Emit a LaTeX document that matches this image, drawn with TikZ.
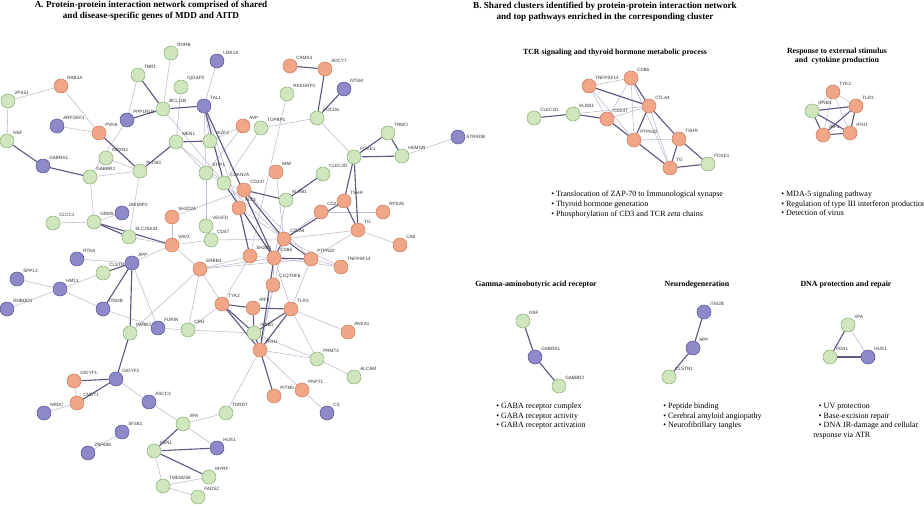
\documentclass[tikz,border=0pt]{standalone}
\usepackage{fontspec}
\setmainfont{Liberation Serif}
\newfontfamily\genefont{Liberation Sans}
\usetikzlibrary{backgrounds}

\definecolor{orfill}{RGB}{242,166,136}
\definecolor{ordraw}{RGB}{205,125,95}
\definecolor{grfill}{RGB}{208,231,190}
\definecolor{grdraw}{RGB}{140,175,120}
\definecolor{pufill}{RGB}{142,138,202}
\definecolor{pudraw}{RGB}{90,86,150}
\definecolor{edgelite}{RGB}{190,185,208}
\definecolor{edgedark}{RGB}{95,88,132}

\tikzset{
  gene/.style={circle, minimum size=0.35cm, inner sep=0pt, line width=0.4pt},
  og/.style={gene, draw=ordraw, fill=orfill},
  gg/.style={gene, draw=grdraw, fill=grfill},
  pg/.style={gene, draw=pudraw, fill=pufill},
  every label/.style={font=\genefont\fontsize{3.3}{4}\selectfont, text=black!80, inner sep=0.6pt},
  weakedge/.style={draw=edgelite, line width=0.4pt},
  strongedge/.style={draw=edgedark, line width=0.8pt},
  paneltitle/.style={font=\bfseries\fontsize{6.5}{7.8}\selectfont, align=center},
  clustertitle/.style={font=\bfseries\fontsize{5.6}{6.6}\selectfont, align=center},
  bullets/.style={font=\fontsize{5.7}{6.8}\selectfont, align=left, anchor=north west, inner sep=0pt}
}

\begin{document}
\begin{tikzpicture}[x=0.025cm, y=-0.025cm]
  \useasboundingbox (0,0) rectangle (924,505);

  % Panel titles
  \node[paneltitle] (titleA) at (151,10.5) {A. Protein-protein interaction network comprised of shared\\ and disease-specific genes of MDD and AITD};
  \node[paneltitle] (titleB) at (605,12) {B. Shared clusters identified by protein-protein interaction network\\ and top pathways enriched in the corresponding cluster};

  % Network A: green genes
  \node[gg, label=45:RORB] (RORB) at (171,53) {};
  \node[gg, label=45:TBR1] (TBR1) at (138,75) {};
  \node[gg, label=45:IQGAP2] (IQGAP2) at (181,87) {};
  \node[gg, label=45:VPS51] (VPS51) at (8,101) {};
  \node[gg, label=45:BCL11B] (BCL11B) at (163,109) {};
  \node[gg, label=45:NSF] (NSF) at (7,141) {};
  \node[gg, label=45:MEN1] (MEN1) at (176,142) {};
  \node[gg, label=45:IKZF2] (IKZF2) at (210,141) {};
  \node[gg, label=45:NRXN2] (NRXN2) at (106,158) {};
  \node[gg, label=45:PLCB3] (PLCB3) at (140,171) {};
  \node[gg, label=45:GABBR2] (GABBR2) at (90,177) {};
  \node[gg, label=45:STIP1] (STIP1) at (206,173) {};
  \node[gg, label=45:CDKN2A] (CDKN2A) at (224,183) {};
  \node[gg, label=45:RASGRP1] (RASGRP1) at (287,94) {};
  \node[gg, label=45:TOPBP1] (TOPBP1) at (261,128) {};
  \node[gg, label=45:PDCD6] (PDCD6) at (317,118) {};
  \node[gg, label=45:TRMO] (TRMO) at (388,133) {};
  \node[gg, label=45:HEMGN] (HEMGN) at (402,156) {};
  \node[gg, label=45:FOXE1] (FOXE1) at (354,157) {};
  \node[gg, label=45:CLEC2D] (CLEC2D) at (323,174) {};
  \node[gg, label=45:KLRB1] (KLRB1) at (286,200) {};
  \node[gg, label=45:VEGFD] (VEGFD) at (206,226) {};
  \node[gg, label=45:CD47] (CD47) at (211,240) {};
  \node[gg, label=45:CLCC1] (CLCC1) at (53,223) {};
  \node[gg, label=45:GRM5] (GRM5) at (94,222) {};
  \node[gg, label=45:SLC25A24] (SLC25A24) at (129,237) {};
  \node[gg, label=45:CLSTN1] (CLSTN1) at (103,273) {};
  \node[gg, label=45:PARK7] (PARK7) at (130,333) {};
  \node[gg, label=45:CRH] (CRH) at (188,330) {};
  \node[gg, label=45:IFNB1] (IFNB1) at (254,333) {};
  \node[gg, label=45:PRMT4] (PRMT4) at (317,359) {};
  \node[gg, label=45:ALCAM] (ALCAM) at (354,377) {};
  \node[gg, label=45:TDRD7] (TDRD7) at (226,413) {};
  \node[gg, label=45:XPA] (XPA) at (183,424) {};
  \node[gg, label=45:FEN1] (FEN1) at (154,451) {};
  \node[gg, label=45:MYRF] (MYRF) at (209,477) {};
  \node[gg, label=45:TMEM258] (TMEM258) at (163,486) {};
  \node[gg, label=45:FADS2] (FADS2) at (198,497) {};

  % Network A: orange genes
  \node[og, label=45:RAB2A] (RAB2A) at (61,86) {};
  \node[og, label=45:PVKB] (PVKB) at (99,133) {};
  \node[og, label=45:CAMK4] (CAMK4) at (290,66) {};
  \node[og, label=45:ADCY7] (ADCY7) at (325,69) {};
  \node[og, label=45:AVP] (AVP) at (243,126) {};
  \node[og, label=45:MAF] (MAF) at (276,172) {};
  \node[og, label=45:CD247] (CD247) at (244,190) {};
  \node[og, label=45:FLT3] (FLT3) at (239,208) {};
  \node[og, label=45:CD276] (CD276) at (321,212) {};
  \node[og, label=45:TSHR] (TSHR) at (344,201) {};
  \node[og, label=45:RPS26] (RPS26) at (383,212) {};
  \node[og, label=45:TG] (TG) at (358,230) {};
  \node[og, label=45:CTLA4] (CTLA4) at (284,239) {};
  \node[og, label=45:CA8] (CA8) at (400,245) {};
  \node[og, label=45:SH2D2A] (SH2D2A) at (172,217) {};
  \node[og, label=45:VAV3] (VAV3) at (172,245) {};
  \node[og, label=45:ERBB3] (ERBB3) at (200,269) {};
  \node[og, label=45:SH2B3] (SH2B3) at (250,256) {};
  \node[og, label=45:CD86] (CD86) at (274,258) {};
  \node[og, label=45:PTPN22] (PTPN22) at (311,259) {};
  \node[og, label=45:TNFRSF14] (TNFRSF14) at (341,267) {};
  \node[og, label=45:C1QTNF6] (C1QTNF6) at (273,285) {};
  \node[og, label=45:TYK2] (TYK2) at (222,304) {};
  \node[og, label=45:IRF3] (IRF3) at (253,308) {};
  \node[og, label=45:TLR3] (TLR3) at (291,309) {};
  \node[og, label=45:IFIH1] (IFIH1) at (260,350) {};
  \node[og, label=45:ANXA1] (ANXA1) at (348,332) {};
  \node[og, label=45:PITM5] (PITM5) at (274,396) {};
  \node[og, label=45:PNPT1] (PNPT1) at (302,390) {};
  \node[og, label=45:GIGYF1] (GIGYF1) at (74,381) {};
  \node[og, label=45:CNOT1] (CNOT1) at (77,403) {};

  % Network A: purple genes
  \node[pg, label=45:LMX1A] (LMX1A) at (217,61) {};
  \node[pg, label=45:NT5M] (NT5M) at (344,89) {};
  \node[pg, label=45:TAL1] (TAL1) at (204,106) {};
  \node[pg, label=45:PPP1R1B] (PPP1R1B) at (127,120) {};
  \node[pg, label=45:ARFGEF1] (ARFGEF1) at (57,126) {};
  \node[pg, label=45:GABRA1] (GABRA1) at (43,166) {};
  \node[pg, label=0:STRADB] (STRADB) at (458,137) {};
  \node[pg, label=45:JAKMIP2] (JAKMIP2) at (122,213) {};
  \node[pg, label=45:RTN4] (RTN4) at (77,259) {};
  \node[pg, label=45:APP] (APP) at (132,263) {};
  \node[pg, label=45:SPPL3] (SPPL3) at (17,279) {};
  \node[pg, label=45:HM13] (HM13) at (60,289) {};
  \node[pg, label=45:RHBDD1] (RHBDD1) at (7,309) {};
  \node[pg, label=45:ITM2B] (ITM2B) at (103,309) {};
  \node[pg, label=45:FURIN] (FURIN) at (158,328) {};
  \node[pg, label=45:GIGYF2] (GIGYF2) at (116,379) {};
  \node[pg, label=45:NRDC] (NRDC) at (44,413) {};
  \node[pg, label=45:ASCC3] (ASCC3) at (149,402) {};
  \node[pg, label=45:SF3B1] (SF3B1) at (122,432) {};
  \node[pg, label=45:ZNF638] (ZNF638) at (88,453) {};
  \node[pg, label=45:HUS1] (HUS1) at (217,448) {};
  \node[pg, label=45:CS] (CS) at (327,413) {};

  % Network A: interactions
  \begin{scope}[on background layer]
    \foreach \a/\b in {RAB2A/VPS51, RAB2A/PVKB, VPS51/NSF, ARFGEF1/PVKB, PPP1R1B/TBR1, PPP1R1B/GABBR2,
        RORB/BCL11B, LMX1A/TAL1, IQGAP2/MEN1, BCL11B/CDKN2A, TAL1/IKZF2, MEN1/STIP1, MEN1/CDKN2A,
        NRXN2/PLCB3, GABBR2/PLCB3, GABBR2/GRM5, PLCB3/SLC25A24, GRM5/JAKMIP2, CLCC1/GRM5,
        SLC25A24/VAV3, APP/RTN4, APP/VAV3, APP/FURIN, CLSTN1/HM13, HM13/SPPL3, HM13/RHBDD1,
        HM13/ITM2B, ITM2B/FURIN, SH2D2A/VAV3, VAV3/CD47, VAV3/ERBB3, ERBB3/PARK7, ERBB3/CRH,
        FURIN/CRH, CRH/IFNB1, CNOT1/NRDC, GIGYF1/CNOT1, GIGYF2/ASCC3, ASCC3/XPA, SF3B1/ZNF638,
        XPA/TDRD7, XPA/HUS1, FEN1/TMEM258, TMEM258/FADS2, TMEM258/MYRF, TDRD7/IFIH1, IFIH1/PRMT4,
        IFIH1/PNPT1, PRMT4/ALCAM, PNPT1/CS, TLR3/ANXA1, IFNB1/PRMT4, PDCD6/TOPBP1, TOPBP1/CDKN2A,
        AVP/IKZF2, AVP/STIP1, RASGRP1/SH2B3, PDCD6/FOXE1, HEMGN/STRADB, MAF/CTLA4, CTLA4/CD276,
        CD276/RPS26, TG/CA8, CTLA4/TG, PTPN22/TG, CTLA4/TNFRSF14, PTPN22/TNFRSF14, CD86/TNFRSF14,
        SH2B3/CD86, SH2B3/FLT3, FLT3/CTLA4, CD47/CTLA4, CD47/VEGFD, ERBB3/TYK2, ERBB3/SH2B3,
        SH2B3/TYK2, CD86/C1QTNF6, C1QTNF6/IFIH1, TLR3/PTPN22, KLRB1/CD86, CD247/PTPN22, TLR3/PRMT4,
        CD86/TLR3, ERBB3/CD86, ERBB3/PTPN22, TAL1/STIP1, TAL1/FLT3, CDKN2A/CTLA4, VEGFD/STIP1,
        CTLA4/IFIH1, TYK2/CRH, STIP1/CDKN2A, CDKN2A/CD247, SH2D2A/CD247}
      \draw[weakedge] (\a) -- (\b);
    \foreach \a/\b in {NSF/GABRA1, GABRA1/GABBR2, PPP1R1B/BCL11B, TBR1/BCL11B, BCL11B/TAL1,
        MEN1/IKZF2, MEN1/PLCB3, PVKB/PLCB3, GRM5/SLC25A24, GRM5/VAV3, APP/CLSTN1, APP/ITM2B,
        APP/PARK7, GIGYF2/GIGYF1, GIGYF2/CNOT1, PARK7/GIGYF2, XPA/FEN1, FEN1/HUS1, FEN1/MYRF,
        CAMK4/ADCY7, ADCY7/PDCD6, PDCD6/NT5M, FOXE1/TRMO, FOXE1/HEMGN, TRMO/HEMGN, FOXE1/TSHR,
        FOXE1/TG, TSHR/TG, CLEC2D/KLRB1, KLRB1/CD247, CTLA4/CD86, CTLA4/PTPN22, CD86/PTPN22,
        CTLA4/TSHR, TYK2/IRF3, TYK2/IFNB1, IRF3/TLR3, IRF3/IFNB1, TLR3/IFNB1, IFNB1/IFIH1,
        IFIH1/PITM5, TYK2/IFIH1, TLR3/IFIH1, CD86/IFIH1, TAL1/CDKN2A, TAL1/CD86, CDKN2A/CD86,
        CD247/CTLA4, FLT3/SH2B3}
      \draw[strongedge] (\a) -- (\b);
  \end{scope}

  % Cluster titles
  \node[clustertitle] (titleTCR) at (615,53) {TCR signaling and thyroid hormone metabolic process};
  \node[clustertitle] (titleResp) at (837,56) {Response to external stimulus\\ and\ \ cytokine production};
  \node[clustertitle] (titleGaba) at (536,285) {Gamma-aminobutyric acid receptor};
  \node[clustertitle] (titleNeuro) at (697,285) {Neurodegeneration};
  \node[clustertitle] (titleDNA) at (846,285) {DNA protection and repair};

  % Cluster: TCR signaling
  \node[og, label=45:TNFRSF14] (t-TNFRSF14) at (589,86) {};
  \node[og, label=45:CD86] (t-CD86) at (631,78) {};
  \node[og, label=45:CTLA4] (t-CTLA4) at (649,106) {};
  \node[gg, label=45:CLEC2D] (t-CLEC2D) at (534,118) {};
  \node[gg, label=45:KLRB1] (t-KLRB1) at (573,114) {};
  \node[og, label=45:CD247] (t-CD247) at (607,119) {};
  \node[og, label=45:PTPN22] (t-PTPN22) at (634,140) {};
  \node[og, label=45:TSHR] (t-TSHR) at (679,139) {};
  \node[og, label=45:TG] (t-TG) at (670,168) {};
  \node[gg, label=45:FOXE1] (t-FOXE1) at (708,164) {};

  % Cluster: response to stimulus
  \node[og, label=45:TYK2] (r-TYK2) at (833,92) {};
  \node[og, label=45:TLR3] (r-TLR3) at (856,106) {};
  \node[gg, label=45:IFNB1] (r-IFNB1) at (812,111) {};
  \node[og, label=45:IFIH1] (r-IFIH1) at (850,133) {};
  \node[og, label=45:IRF3] (r-IRF3) at (823,135) {};

  % Cluster: GABA receptor
  \node[gg, label=45:NSF] (g-NSF) at (523,321) {};
  \node[pg, label=45:GABRA1] (g-GABRA1) at (535,357) {};
  \node[gg, label=45:GABBR2] (g-GABBR2) at (559,386) {};

  % Cluster: neurodegeneration
  \node[pg, label=45:ITM2B] (n-ITM2B) at (704,312) {};
  \node[pg, label=45:APP] (n-APP) at (693,348) {};
  \node[gg, label=45:CLSTN1] (n-CLSTN1) at (669,377) {};

  % Cluster: DNA repair
  \node[gg, label=45:XPA] (d-XPA) at (848,325) {};
  \node[gg, label=45:FEN1] (d-FEN1) at (830,357) {};
  \node[pg, label=45:HUS1] (d-HUS1) at (868,357) {};

  \begin{scope}[on background layer]
    \foreach \a/\b in {t-TNFRSF14/t-CD86, t-TNFRSF14/t-CD247, t-TNFRSF14/t-PTPN22, t-CD86/t-CD247,
        t-CD86/t-PTPN22, t-CD86/t-TG, t-CTLA4/t-CD247, t-CTLA4/t-TG, t-CTLA4/t-KLRB1,
        t-PTPN22/t-TSHR, r-TYK2/r-TLR3, r-TYK2/r-IFIH1, r-TYK2/r-IRF3, r-TYK2/r-IFNB1, d-XPA/d-HUS1}
      \draw[weakedge] (\a) -- (\b);
    \foreach \a/\b in {t-TNFRSF14/t-CTLA4, t-CD86/t-CTLA4, t-CTLA4/t-PTPN22, t-CTLA4/t-TSHR,
        t-CD247/t-PTPN22, t-CD247/t-KLRB1, t-CLEC2D/t-KLRB1, t-PTPN22/t-TG, t-TSHR/t-TG,
        t-TSHR/t-FOXE1, t-TG/t-FOXE1, r-IFNB1/r-TLR3, r-IFNB1/r-IRF3, r-IFNB1/r-IFIH1,
        r-IRF3/r-IFIH1, r-TLR3/r-IFIH1, r-TLR3/r-IRF3, g-NSF/g-GABRA1, g-GABRA1/g-GABBR2,
        n-ITM2B/n-APP, n-APP/n-CLSTN1, d-XPA/d-FEN1, d-FEN1/d-HUS1}
      \draw[strongedge] (\a) -- (\b);
  \end{scope}

  % Enriched pathways
  \node[bullets] (listTCR) at (551,191) {\textbullet\ Translocation of ZAP-70 to Immunological synapse\\ \textbullet\ Thyroid hormone generation\\ \textbullet\ Phosphorylation of CD3 and TCR \textit{zeta} chains};
  \node[bullets] (listResp) at (781,191) {\textbullet\ MDA-5 signaling pathway\\ \textbullet\ Regulation of type III interferon production\\ \textbullet\ Detection of virus};
  \node[bullets] (listGaba) at (496,403) {\textbullet\ GABA receptor complex\\ \textbullet\ GABA receptor activity\\ \textbullet\ GABA receptor activation};
  \node[bullets] (listNeuro) at (663,403) {\textbullet\ Peptide binding\\ \textbullet\ Cerebral amyloid angiopathy\\ \textbullet\ Neurofibrillary tangles};
  \node[bullets] (listDNA) at (813,403) {\hspace*{4pt}\textbullet\ UV protection\\ \hspace*{4pt}\textbullet\ Base-excision repair\\ \hspace*{4pt}\textbullet\ DNA IR-damage and cellular\\ response via ATR};
\end{tikzpicture}
\end{document}
